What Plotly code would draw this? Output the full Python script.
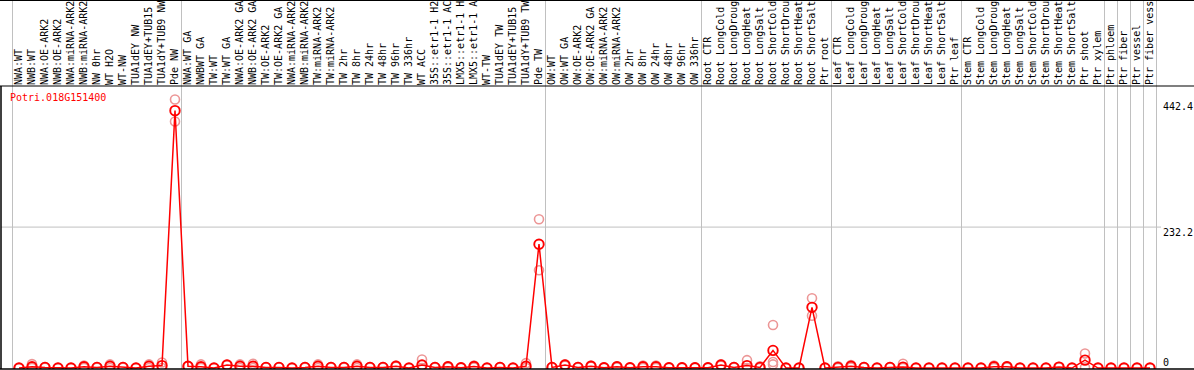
import numpy as np
import plotly.graph_objects as go

# ---------------- data ----------------
labels = [
    "NWA:WT", "NWB:WT", "NWA:OE-ARK2", "NWB:OE-ARK2", "NWA:miRNA-ARK2", "NWB:miRNA-ARK2",
    "NW 0hr", "WT H2O", "WT-NW", "TUA1dEY NW", "TUA1dEY+TUB15", "TUA1dY+TUB9 NW", "Pde NW",
    "NWA:WT GA", "NWBWT GA", "TW:WT", "TW:WT GA", "NWA:OE-ARK2 GA", "NWB:OE-ARK2 GA",
    "TW:OE-ARK2", "TW:OE-ARK2 GA", "NWA:miRNA-ARK2", "NWB:miRNA-ARK2", "TW:miRNA-ARK2",
    "TW:miRNA-ARK2", "TW 2hr", "TW 8hr", "TW 24hr", "TW 48hr", "TW 96hr", "TW 336hr",
    "WT ACC", "35S::etr1-1 H2", "35S::etr1-1 AC", "LMX5::etr1-1 H", "LMX5::etr1-1 A",
    "WT-TW", "TUA1dEY TW", "TUA1dEY+TUB15", "TUA1dY+TUB9 TW", "Pde TW",
    "OW:WT", "OW:WT GA", "OW:OE-ARK2", "OW:OE-ARK2 GA", "OW:miRNA-ARK2", "OW:miRNA-ARK2",
    "OW 2hr", "OW 8hr", "OW 24hr", "OW 48hr", "OW 96hr", "OW 336hr",
    "Root CTR", "Root LongCold", "Root LongDroug", "Root LongHeat", "Root LongSalt",
    "Root ShortCold", "Root ShortDrou", "Root ShortHeat", "Root ShortSalt", "Ptr root",
    "Leaf CTR", "Leaf LongCold", "Leaf LongDroug", "Leaf LongHeat", "Leaf LongSalt",
    "Leaf ShortCold", "Leaf ShortDrou", "Leaf ShortHeat", "Leaf ShortSalt", "Ptr leaf",
    "Stem CTR", "Stem LongCold", "Stem LongDroug", "Stem LongHeat", "Stem LongSalt",
    "Stem ShortCold", "Stem ShortDrou", "Stem ShortHeat", "Stem ShortSalt", "Ptr shoot",
    "Ptr xylem", "Ptr phloem", "Ptr fiber", "Ptr vessel", "Ptr fiber vess",
]

mean_values = [
    0, 2, 1, 0, 0, 2, 1, 3, 1, 0, 3, 4, 424,
    3, 2, 0, 5, 3, 3, 1, 1, 0, 1, 3, 1, 1, 3, 1, 1, 3, 0,
    5, 1, 2, 0.5, 2.5, 0, 1, 0, 3, 204,
    1, 5, 1, 3, 0.5, 2, 0.5, 2, 2, 0.5, 0.5, 0.5,
    0.5, 5, 1, 4, 1, 29, 0, 0, 100, 0,
    1, 3, 1, 0, 1, 1.5, 0, 0, 0, 0,
    0, 0, 2, 2, 0, 0, 0, 1.5, 0, 13,
    0, 0, 0, 0, 0,
]

rep_high = [
    0, 6.5, 1.5, 0, 0, 4, 1.5, 6, 1.5, 0, 6, 9, 442.4,
    3, 6, 0, 5.5, 6, 7, 1, 1, 0, 1.5, 6, 1.5, 1.5, 6, 1.5, 1.5, 4, 0,
    14, 1.5, 3, 1, 4, 0, 1.5, 0, 8, 245,
    1.5, 6, 1.5, 4, 1, 3, 1, 4, 4, 1, 1, 1,
    1, 6, 1.5, 13, 3, 71, 0, 0, 115, 0,
    3, 5, 1.5, 0, 1.5, 7, 0, 0, 0, 0,
    0, 0, 4, 3, 0, 0, 0, 2, 0, 24,
    0, 0, 0, 0, 0,
]

rep_low = [
    0, 0, 0.5, 0, 0, 0, 0.5, 0, 0.5, 0, 0, 0, 406,
    3, 0, 0, 4.5, 0, 0, 1, 1, 0, 0.5, 0, 0.5, 0.5, 0, 0.5, 0.5, 2, 0,
    0, 0.5, 1, 0, 1, 0, 0.5, 0, 0, 161,
    0.5, 4, 0.5, 2, 0, 1, 0, 0, 0, 0, 0, 0,
    0, 4, 0.5, 0, 0, 10, 0, 0, 86, 0,
    0, 1, 0.5, 0, 0.5, 0, 0, 0, 0, 0,
    0, 0, 0, 1, 0, 0, 0, 1, 0, 1,
    0, 0, 0, 0, 0,
]

rep_extra_idx = [58]
rep_extra_val = [6]

group_starts = [0, 13, 41, 53, 63, 73, 84, 85, 86, 87, 88]

gene_name = "Potri.018G151400"
axis_labels = [442.4, 232.2, 0]
label_shift = [-7, -5, 6]
grid_value = 232.2

# ---------------- figure ----------------
W, H = 1194, 370
ML, MR, MT, MB = 1, 37, 86, 1
PW = W - ML - MR
PH = H - MT - MB

x = np.arange(len(labels))
mono = "DejaVu Sans Mono"
RED = "#ff0000"
PALE = "rgb(236,150,150)"

fig = go.Figure()

for reps, xs in ((rep_high, x), (rep_low, x), (rep_extra_val, np.array(rep_extra_idx))):
    fig.add_trace(go.Scatter(
        x=xs, y=reps, mode="markers", hoverinfo="skip",
        marker=dict(symbol="circle-open", size=9, color=PALE, line=dict(width=1.6, color=PALE)),
        showlegend=False,
    ))

fig.add_trace(go.Scatter(
    x=x, y=mean_values, mode="lines", line=dict(color=RED, width=1.5), showlegend=False,
))
fig.add_trace(go.Scatter(
    x=x, y=mean_values, mode="markers",
    marker=dict(symbol="circle-open", size=9.5, color=RED, line=dict(width=1.9, color=RED)),
    showlegend=False,
))

x0 = -18 / 13
x1 = x0 + PW / 13
y_lo = -1.6
y_hi = 464.6

shapes = []
top_paper = 1 + MT / PH
for g in group_starts:
    shapes.append(dict(type="line", xref="x", yref="paper", x0=g - 0.5, x1=g - 0.5,
                       y0=0, y1=top_paper, line=dict(color="#c0c0c0", width=1), layer="below"))
shapes.append(dict(type="line", xref="paper", yref="y", x0=0, x1=1 + 4 / PW,
                   y0=grid_value, y1=grid_value, line=dict(color="#c0c0c0", width=1), layer="below"))
# frame lines
right_paper = 1 + (MR + 2) / PW
shapes.append(dict(type="line", xref="paper", yref="paper", x0=-0.01, x1=right_paper,
                   y0=1, y1=1, line=dict(color="black", width=1.2)))
shapes.append(dict(type="line", xref="paper", yref="paper", x0=-0.01, x1=right_paper,
                   y0=0, y1=0, line=dict(color="black", width=1.5)))
shapes.append(dict(type="line", xref="paper", yref="paper", x0=0, x1=0,
                   y0=0, y1=1, line=dict(color="black", width=1.5)))
shapes.append(dict(type="line", xref="paper", yref="paper", x0=-0.01, x1=right_paper,
                   y0=1 + (MT - 0.5) / PH, y1=1 + (MT - 0.5) / PH, line=dict(color="black", width=1)))

annotations = [dict(text=gene_name, xref="paper", yref="paper", x=7 / PW, y=1 - 11 / PH,
                    xanchor="left", yanchor="middle", showarrow=False,
                    font=dict(family=mono, size=10, color=RED))]
for v, s in zip(axis_labels, label_shift):
    annotations.append(dict(text=str(v) if v != 0 else "0", xref="paper", yref="y",
                            x=1 + 4 / PW, y=v, yshift=s, xanchor="left", yanchor="middle",
                            showarrow=False, font=dict(family=mono, size=10, color="black")))

fig.update_layout(
    width=W, height=H, template="none",
    margin=dict(l=ML, r=MR, t=MT, b=MB, pad=0),
    paper_bgcolor="white", plot_bgcolor="white",
    showlegend=False,
    xaxis=dict(range=[x0, x1], side="top", tickmode="array", tickvals=x, ticktext=labels,
               tickangle=-90, tickfont=dict(family=mono, size=10, color="black"),
               showgrid=False, zeroline=False, showline=False, ticks="", automargin=False),
    yaxis=dict(range=[y_lo, y_hi], showticklabels=False, showgrid=False, zeroline=False,
               showline=False, ticks="", automargin=False),
    shapes=shapes, annotations=annotations,
)

fig.write_html("out.html", config={"displayModeBar": False},
               post_script="document.body.style.margin='0px';document.body.style.overflow='hidden';")
